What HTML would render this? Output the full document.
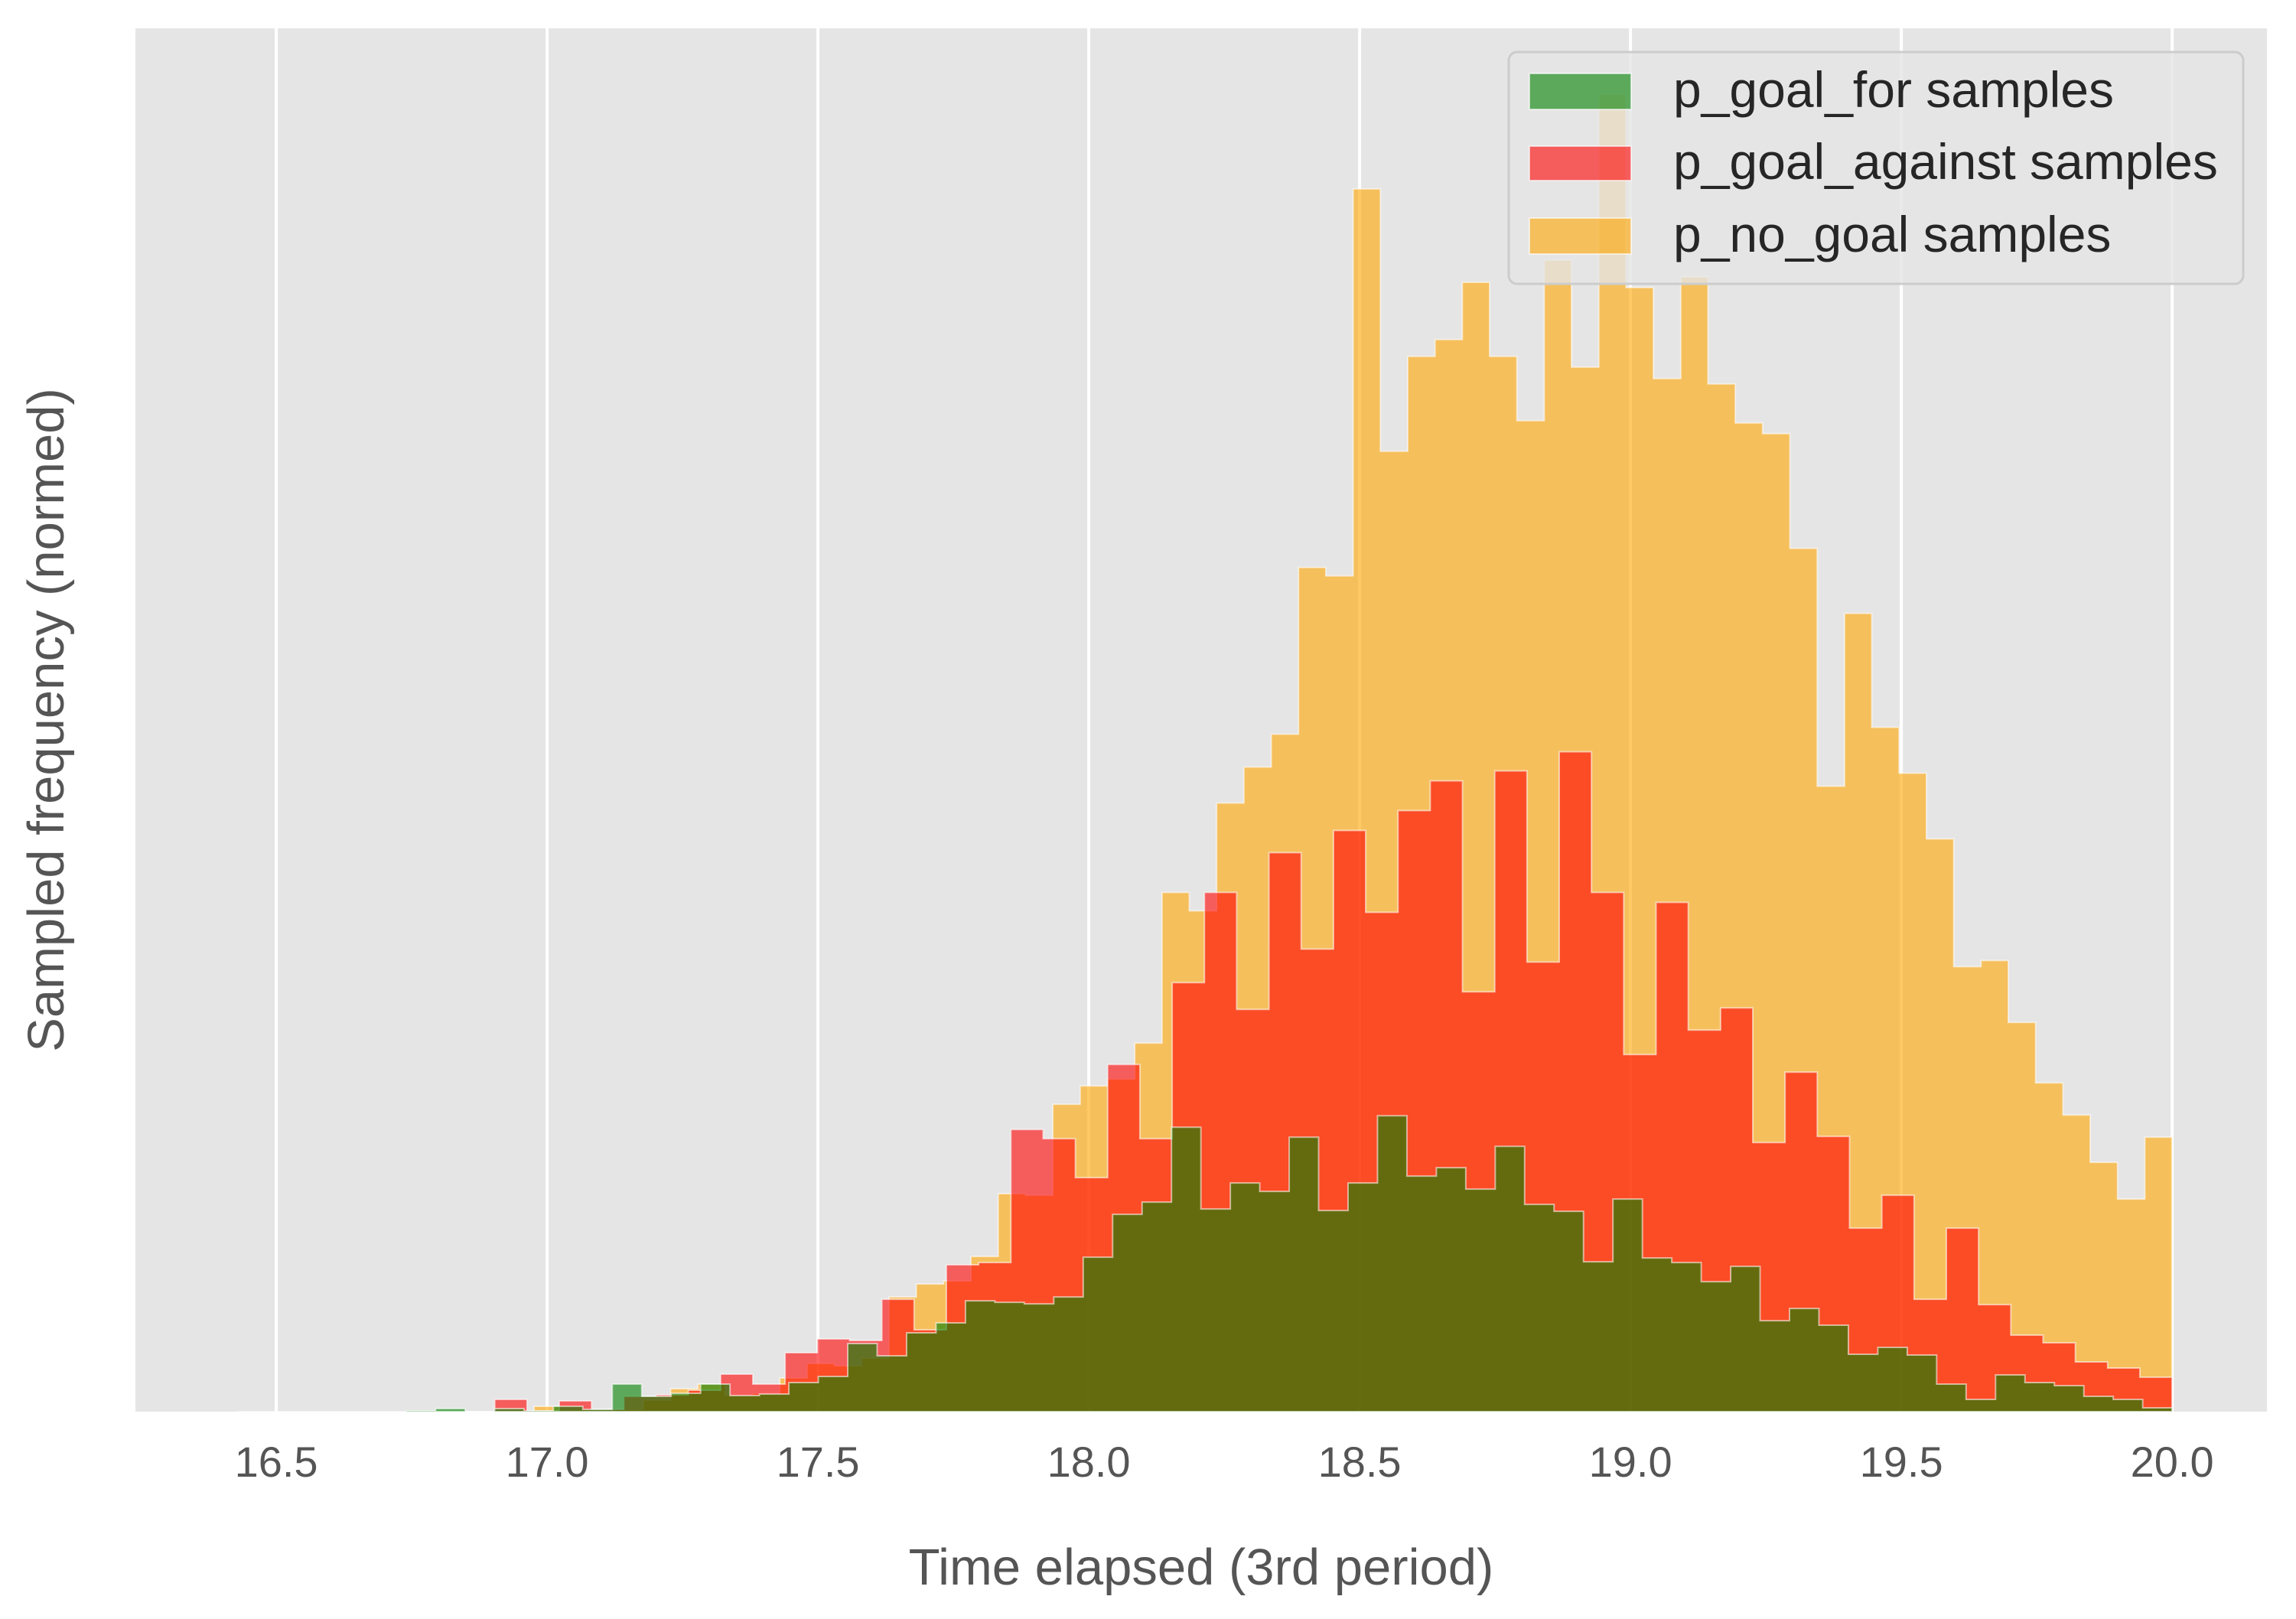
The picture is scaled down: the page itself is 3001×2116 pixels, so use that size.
<!DOCTYPE html>
<html>
<head>
<meta charset="utf-8">
<style>
  html, body { margin: 0; padding: 0; background: #ffffff; }
  svg { display: block; }
  text { font-family: "Liberation Sans", Arial, sans-serif; }
</style>
</head>
<body>
<svg id="chart" xmlns="http://www.w3.org/2000/svg" width="3001" height="2116" viewBox="0 0 3001 2116">
  <rect x="0" y="0" width="3001" height="2116" fill="#ffffff"/>
  <rect x="177" y="37" width="2786" height="1808" fill="#e5e5e5"/>
  <g id="grid"></g>
  <g id="bars"></g>
  <g id="xticks"></g>
  <text x="1570" y="2071" font-size="67" fill="#555555" text-anchor="middle">Time elapsed (3rd period)</text>
  <text x="0" y="0" font-size="67" fill="#555555" text-anchor="middle" transform="translate(83,941) rotate(-90)">Sampled frequency (normed)</text>
  <g>
    <rect x="1972" y="68" width="960" height="303" rx="11" ry="11" fill="rgba(229,229,229,0.8)" stroke="#cccccc" stroke-width="3"/>
    <g>
      <rect x="1999" y="96" width="133" height="47" fill="rgba(0,128,0,0.6)" stroke="rgba(255,255,255,0.6)" stroke-width="2"/>
      <text x="2187" y="140" font-size="66" fill="#262626">p_goal_for samples</text>
    </g>
    <g>
      <rect x="1999" y="191" width="133" height="45" fill="rgba(255,0,0,0.6)" stroke="rgba(255,255,255,0.6)" stroke-width="2"/>
      <text x="2187" y="234" font-size="66" fill="#262626">p_goal_against samples</text>
    </g>
    <g>
      <rect x="1999" y="285" width="133" height="47" fill="rgba(255,165,0,0.6)" stroke="rgba(255,255,255,0.6)" stroke-width="2"/>
      <text x="2187" y="329" font-size="66" fill="#262626">p_no_goal samples</text>
    </g>
  </g>
</svg>
<script>
// ---- chart data ----
const xTicks = [16.5, 17.0, 17.5, 18.0, 18.5, 19.0, 19.5, 20.0];
const xTickLabels = ["16.5", "17.0", "17.5", "18.0", "18.5", "19.0", "19.5", "20.0"];

const noGoalStart = 16.976;
const noGoalEnd = 20.0;
const noGoalCounts = [7,2,1,3,15,30,36,22,24,44,63,60,70,150,167,171,203,285,283,402,426,435,482,679,655,796,843,886,1104,1093,1599,1256,1380,1402,1477,1380,1296,1506,1366,1723,1470,1351,1484,1344,1293,1279,1129,818,1044,895,835,749,582,590,509,430,388,326,278,359];

const goalAgainstStart = 16.427;
const goalAgainstEnd = 20.0;
const goalAgainstCounts = [0,0,0,0,0,0,0,0,16,1,14,3,20,22,28,49,36,77,95,93,147,107,192,195,369,357,306,454,357,561,679,526,731,605,760,653,786,825,549,838,588,863,679,467,666,499,528,352,444,360,240,283,147,240,140,100,90,65,57,45];

const goalForStart = 16.74;
const goalForEnd = 20.0;
const goalForCounts = [1,4,0,4,1,7,3,36,20,24,36,21,23,38,46,89,73,103,116,145,143,141,150,202,258,274,372,265,299,288,359,263,299,387,308,319,291,347,271,262,196,278,201,195,170,190,119,135,113,75,84,74,36,16,48,38,34,20,16,5];

const xDomain = [16.24, 20.175];
const yDomain = [0, 1809];

// ---- axes ----
const plotLeft = 177, plotRight = 2963, plotTop = 37, plotBottom = 1845;
function xScale(v) { return plotLeft + (v - xDomain[0]) / (xDomain[1] - xDomain[0]) * (plotRight - plotLeft); }
function yScale(v) { return plotBottom - (v - yDomain[0]) / (yDomain[1] - yDomain[0]) * (plotBottom - plotTop); }

const NS = "http://www.w3.org/2000/svg";
const grid = document.getElementById("grid");
const ticks = document.getElementById("xticks");
const bars = document.getElementById("bars");

xTicks.forEach(function (t, i) {
  const gl = document.createElementNS(NS, "line");
  gl.setAttribute("x1", xScale(t));
  gl.setAttribute("x2", xScale(t));
  gl.setAttribute("y1", plotTop);
  gl.setAttribute("y2", plotBottom);
  gl.setAttribute("stroke", "#ffffff");
  gl.setAttribute("stroke-width", "4");
  
  
  grid.appendChild(gl);

  const tx = document.createElementNS(NS, "text");
  tx.setAttribute("x", xScale(t));
  tx.setAttribute("y", 1930);
  tx.setAttribute("font-size", "56");
  tx.setAttribute("fill", "#555555");
  tx.setAttribute("text-anchor", "middle");
  tx.textContent = xTickLabels[i];
  
  
  ticks.appendChild(tx);
});

function stepPath(start, end, counts) {
  const n = counts.length;
  const w = (end - start) / n;
  let d = "M" + xScale(start).toFixed(2) + "," + yScale(0).toFixed(2);
  for (let i = 0; i < n; i++) {
    const x0 = xScale(start + i * w), x1 = xScale(start + (i + 1) * w), y = yScale(counts[i]);
    d += " L" + x0.toFixed(2) + "," + y.toFixed(2) + " L" + x1.toFixed(2) + "," + y.toFixed(2);
  }
  d += " L" + xScale(end).toFixed(2) + "," + yScale(0).toFixed(2) + " Z";
  return d;
}

function addSeries(start, end, counts, fill, name) {
  const p = document.createElementNS(NS, "path");
  p.setAttribute("d", stepPath(start, end, counts));
  p.setAttribute("fill", fill);
  p.setAttribute("stroke", "rgba(255,255,255,0.55)");
  p.setAttribute("stroke-width", "2");
  p.setAttribute("stroke-linejoin", "miter");
  
  
  bars.appendChild(p);
}

addSeries(noGoalStart, noGoalEnd, noGoalCounts, "rgba(255,165,0,0.6)", "p-no-goal-histogram");
addSeries(goalAgainstStart, goalAgainstEnd, goalAgainstCounts, "rgba(255,0,0,0.6)", "p-goal-against-histogram");
addSeries(goalForStart, goalForEnd, goalForCounts, "rgba(0,128,0,0.6)", "p-goal-for-histogram");
</script>
</body>
</html>
